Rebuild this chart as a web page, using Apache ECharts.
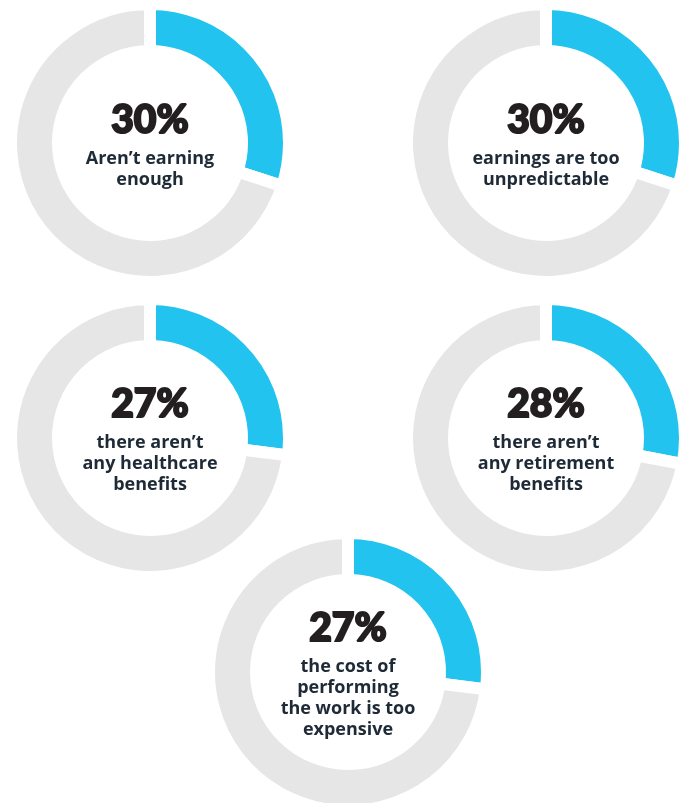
<!DOCTYPE html>
<html><head><meta charset="utf-8">
<script src="https://cdn.jsdelivr.net/npm/echarts@6/dist/echarts.min.js"></script>
<style>html,body{margin:0;padding:0;background:#fff}#c{width:679px;height:803px}</style>
</head><body><div id="c"></div>
<script>
// Data
const percents = [30, 30, 27, 28, 27];
const labels = [
  ["Aren’t earning", "enough"],
  ["earnings are too", "unpredictable"],
  ["there aren’t", "any healthcare", "benefits"],
  ["there aren’t", "any retirement", "benefits"],
  ["the cost of", "performing", "the work is too", "expensive"]
];

// Layout (not data)
const centers = [[150, 143], [546, 143], [150, 438], [546, 438], [348, 672]];

const chart = echarts.init(document.getElementById('c'), null, {renderer: 'canvas'});
const series = percents.map((p, i) => ({
  type: 'pie',
  center: centers[i],
  radius: [92, 139],
  startAngle: 90,
  clockwise: true,
  silent: true,
  animation: false,
  labelLine: {show: false},
  itemStyle: {borderColor: '#ffffff', borderWidth: 12},
  data: [
    {
      value: p,
      itemStyle: {color: '#22c3ee'},
      label: {
        show: true,
        position: 'center',
        offset: [0, -2],
        formatter: '{p|' + p + '%}\n' + labels[i].map(l => '{t|' + l + '}').join('\n'),
        rich: {
          p: {fontFamily: 'Lato, Roboto, sans-serif', fontWeight: 900, fontSize: 39, color: '#231f20',
              textBorderColor: '#231f20', textBorderWidth: 2, lineHeight: 56, align: 'center'},
          t: {fontFamily: '"Open Sans", sans-serif', fontWeight: 'bold', fontSize: 18, color: '#1f2a37', lineHeight: 21, align: 'center'}
        }
      }
    },
    {value: 100 - p, itemStyle: {color: '#e6e6e6'}, label: {show: false}}
  ]
}));
chart.setOption({backgroundColor: '#ffffff', series});
</script>
</body></html>
